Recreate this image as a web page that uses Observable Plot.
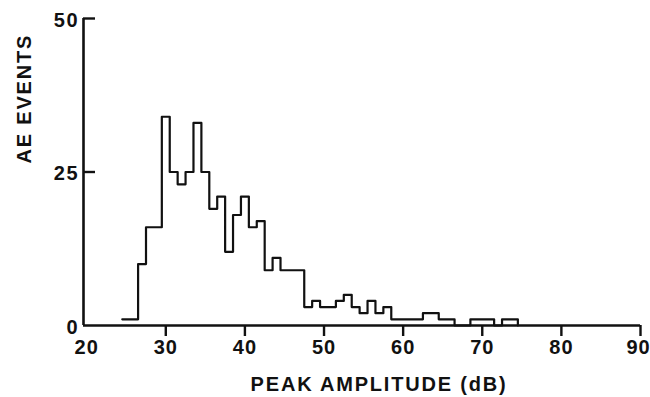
<!DOCTYPE html>
<html>
<head>
<meta charset="utf-8">
<script src="https://cdn.jsdelivr.net/npm/d3@7"></script>
<script src="https://cdn.jsdelivr.net/npm/@observablehq/plot@0.6"></script>
<style>
  body { margin: 0; background: #fff; }
  #chart svg text {
    font-family: "Liberation Sans", Arial, Helvetica, sans-serif;
    font-weight: bold;
    letter-spacing: 1.8px;
    fill: #111;
  }
  #chart svg g[aria-label="x-axis tick label"] text { letter-spacing: 1px; }
</style>
</head>
<body>
<div id="chart"></div>
<script>
// Peak amplitude of each 1 dB bin (bin centre, dB)
const amplitude = [25, 26, 27, 28, 29, 30, 31, 32, 33, 34, 35, 36, 37, 38, 39, 40, 41, 42, 43, 44,
                   45, 46, 47, 48, 49, 50, 51, 52, 53, 54, 55, 56, 57, 58, 59, 60, 61, 62, 63, 64,
                   65, 66, 67, 68, 69, 70, 71, 72, 73, 74];
// Number of AE events recorded in each bin
const events = [1, 1, 10, 16, 16, 34, 25, 23, 25, 33, 25, 19, 21, 12, 18, 21, 16, 17, 9, 11,
                9, 9, 9, 3, 4, 3, 3, 4, 5, 3, 2, 4, 2, 3, 1, 1, 1, 1, 2, 2,
                1, 1, 0, 0, 1, 1, 1, 0, 1, 1];

const xTicks = [20, 30, 40, 50, 60, 70, 80, 90];
const yTicks = [0, 25, 50];
const xTitle = "PEAK AMPLITUDE (dB)";
const yTitle = "AE EVENTS";

const xDomain = [19.6, 90];
const yDomain = [0, 50];

// Outline of the histogram: each bin spans its centre ± 0.5 dB
const outline = amplitude.map((a, i) => ({x: a - 0.5, y: events[i]}));
outline.push({x: amplitude[amplitude.length - 1] + 0.5, y: 0});

const chart = Plot.plot({
  width: 650,
  height: 397,
  marginLeft: 83,
  marginRight: 10,
  marginTop: 18,
  marginBottom: 72,
  x: {domain: xDomain},
  y: {domain: yDomain},
  style: {background: "#fff", color: "#111", fontSize: "20px"},
  marks: [
    Plot.line(outline, {x: "x", y: "y", curve: "step-after", stroke: "#111", strokeWidth: 2.2}),
    // axis lines
    Plot.ruleY([yDomain[0]], {stroke: "#111", strokeWidth: 2.6}),
    Plot.ruleX([xDomain[0]], {stroke: "#111", strokeWidth: 2.6}),
    // x ticks hang below the axis, y ticks point inward
    Plot.axisX(xTicks.slice(1), {tickSize: 11, tickFormat: () => "", label: null, strokeWidth: 2.4}),
    Plot.axisY(yTicks.slice(1), {tickSize: 12, dx: 12, tickFormat: () => "", label: null, strokeWidth: 2.4}),
    // tick labels (the last one is nudged in so it stays inside the page)
    Plot.axisX(xTicks.slice(0, -1), {tickSize: 0, tickPadding: 14, label: null}),
    Plot.axisX(xTicks.slice(-1), {tickSize: 0, tickPadding: 14, label: null, dx: -2}),
    Plot.axisY(yTicks, {tickSize: 0, tickPadding: 4, dy: 2, label: null}),
    // axis titles
    Plot.text([xTitle], {text: d => d, frameAnchor: "bottom", lineAnchor: "middle", dx: 17, dy: 59, fontSize: 20}),
    Plot.text([yTitle], {text: d => d, frameAnchor: "left", lineAnchor: "middle", rotate: -90, dx: -59, dy: -8.5, fontSize: 20})
  ]
});

document.getElementById("chart").append(chart);
</script>
</body>
</html>
